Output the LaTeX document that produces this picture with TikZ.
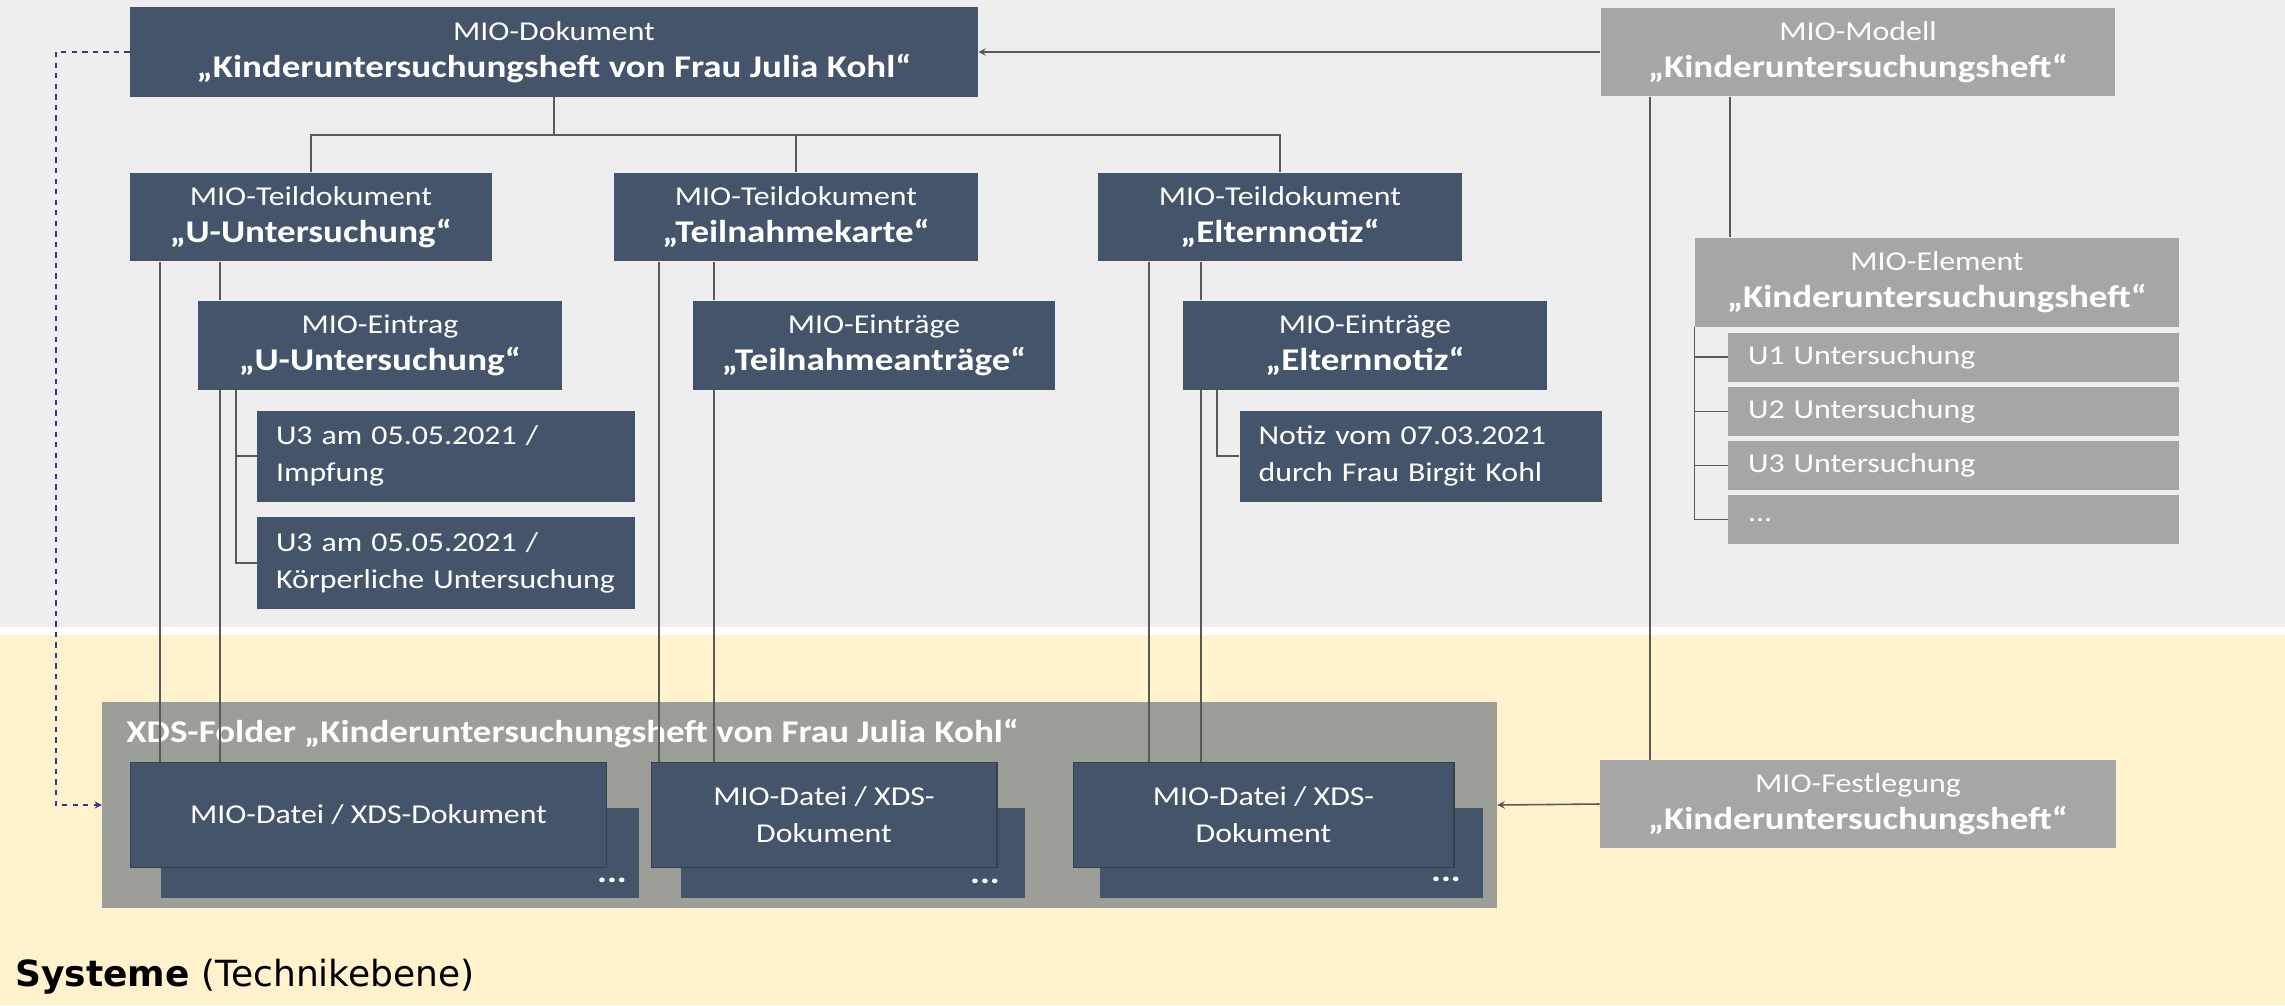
\documentclass[tikz,border=0pt]{standalone}
\usepackage{fontspec}
\setmainfont{Carlito}[FakeStretch=1.17]
\newfontfamily\sysfont{DejaVu Sans}
\usetikzlibrary{positioning}

\definecolor{miodark}{HTML}{44546A}
\definecolor{miogray}{HTML}{A6A6A6}
\definecolor{topbg}{HTML}{EEEEEE}
\definecolor{sysbg}{HTML}{FFF2CC}
\definecolor{foldergray}{HTML}{9C9F98}
\definecolor{docline}{HTML}{363F4D}
\definecolor{linegray}{HTML}{595959}
\definecolor{dashblue}{HTML}{2F3A8C}

\newcommand{\mioreg}{\fontsize{15.5}{21}\selectfont}
\newcommand{\miobold}{\fontsize{18}{22}\selectfont\bfseries}

\tikzstyle{darkbox} = [rectangle, fill=miodark, text=white, align=center, inner sep=0pt, font=\mioreg]
\tikzstyle{graybox} = [rectangle, fill=miogray, text=white, align=center, inner sep=0pt, font=\mioreg]
\tikzstyle{entrybox} = [rectangle, fill=miodark, text=white, align=left, inner xsep=0.38cm, inner ysep=0pt, font=\mioreg]
\tikzstyle{itembox} = [rectangle, fill=miogray, text=white, align=left, inner xsep=0.4cm, inner ysep=0pt, text width=8.22cm, minimum height=0.98cm, font=\mioreg]
\tikzstyle{folderbox} = [rectangle, fill=foldergray, inner sep=0pt]
\tikzstyle{docbox} = [rectangle, fill=miodark, draw=docline, line width=0.6pt, text=white, align=center, inner sep=0pt, minimum height=2.1cm, font=\mioreg]
\tikzstyle{backbox} = [rectangle, fill=miodark, inner sep=0pt, minimum height=1.8cm]
\tikzstyle{dotsstyle} = [text=white, inner sep=0pt, font=\miobold]
\tikzstyle{conn} = [draw=linegray, line width=0.7pt]
\tikzstyle{arrow} = [linegray, line width=0.9pt, ->, >=stealth]
\tikzstyle{dashlink} = [dashblue, line width=0.8pt, dashed, ->, >=stealth]

\begin{document}
\begin{tikzpicture}[x=0.02cm, y=-0.02cm, node distance=1.086cm]
	\useasboundingbox (0,0) rectangle (2285,1005);
	\fill [topbg] (0,0) rectangle (2285,627);
	\fill [white] (0,627) rectangle (2285,635);
	\fill [sysbg] (0,635) rectangle (2285,1005);

	% Fachebene
	\node (mdok) [darkbox, minimum width=16.96cm, minimum height=1.8cm] at (554,52) {MIO-Dokument\\\miobold „Kinderuntersuchungsheft von Frau Julia Kohl“};
	\node (teil1) [darkbox, minimum width=7.24cm, minimum height=1.78cm] at (311,217) {MIO-Teildokument\\\miobold „U-Untersuchung“};
	\node (teil2) [darkbox, minimum width=7.28cm, minimum height=1.78cm] at (796,217) {MIO-Teildokument\\\miobold „Teilnahmekarte“};
	\node (teil3) [darkbox, minimum width=7.3cm, minimum height=1.78cm] at (1280,217) {MIO-Teildokument\\\miobold „Elternnotiz“};
	\node (eintrag1) [darkbox, minimum width=7.28cm, minimum height=1.78cm] at (380,345) {MIO-Eintrag\\\miobold „U-Untersuchung“};
	\node (eintrag2) [darkbox, minimum width=7.26cm, minimum height=1.78cm] at (874,345) {MIO-Einträge\\\miobold „Teilnahmeanträge“};
	\node (eintrag3) [darkbox, minimum width=7.3cm, minimum height=1.78cm] at (1365,345) {MIO-Einträge\\\miobold „Elternnotiz“};
	\node (entry1) [entrybox, text width=6.8cm, minimum height=1.82cm] at (446,456) {U3 am 05.05.2021 /\\Impfung};
	\node (entry2) [entrybox, text width=6.8cm, minimum height=1.84cm] at (446,563) {U3 am 05.05.2021 /\\Körperliche Untersuchung};
	\node (notiz) [entrybox, text width=6.5cm, minimum height=1.82cm] at (1421,456) {Notiz vom 07.03.2021\\durch Frau Birgit Kohl};

	\node (modell) [graybox, minimum width=10.3cm, minimum height=1.78cm] at (1858,52) {MIO-Modell\\\miobold „Kinderuntersuchungsheft“};
	\node (elem) [graybox, minimum width=9.68cm, minimum height=1.78cm] at (1937,282) {MIO-Element\\\miobold „Kinderuntersuchungsheft“};
	\node (u1) [itembox] at (1953.5,357) {U1 Untersuchung};
	\node (u2) [itembox, below of=u1] {U2 Untersuchung};
	\node (u3) [itembox, below of=u2] {U3 Untersuchung};
	\node (umore) [itembox, below of=u3] {...};
	\node (festl) [graybox, minimum width=10.32cm, minimum height=1.76cm] at (1858,804) {MIO-Festlegung\\\miobold „Kinderuntersuchungsheft“};

	% Systemebene
	\node (folder) [folderbox, minimum width=27.9cm, minimum height=4.14cm] at (799.5,805) {};
	\node (foldertitle) [anchor=west, text=white, inner sep=0pt, font=\miobold] at (126,733) {XDS-Folder „Kinderuntersuchungsheft von Frau Julia Kohl“};
	\node (doc1b) [backbox, minimum width=9.56cm] at (400,853) {};
	\node (doc1a) [docbox, minimum width=9.54cm] at (368.5,815) {MIO-Datei / XDS-Dokument};
	\node (dots1) [dotsstyle] at (612,880) {...};
	\node (doc2b) [backbox, minimum width=6.9cm] at (853,853) {};
	\node (doc2a) [docbox, minimum width=6.92cm] at (824,815) {MIO-Datei / XDS-\\Dokument};
	\node (dots2) [dotsstyle] at (985,881) {...};
	\node (doc3b) [backbox, minimum width=7.66cm] at (1291.5,853) {};
	\node (doc3a) [docbox, minimum width=7.62cm] at (1263.5,815) {MIO-Datei / XDS-\\Dokument};
	\node (dots3) [dotsstyle] at (1446,879) {...};
	\node (systeme) [anchor=west, inner sep=0pt, font=\sysfont\fontsize{20.5}{25}\selectfont] at (15,977) {\textbf{Systeme} (Technikebene)};

	% Verbindungen
	\coordinate (bar) at (554,135);
	\coordinate (col1) at (160,0);
	\coordinate (col2) at (220,0);
	\coordinate (col3) at (236,0);
	\coordinate (col4) at (659,0);
	\coordinate (col5) at (714,0);
	\coordinate (col6) at (1149,0);
	\coordinate (col7) at (1201,0);
	\coordinate (col8) at (1217,0);
	\coordinate (col9) at (1650,0);
	\coordinate (col10) at (1730,0);
	\coordinate (dashcorner) at (56,400);

	\draw [conn] (mdok.south) -- (bar) -| (teil1.north);
	\draw [conn] (bar) -| (teil2.north);
	\draw [conn] (bar) -| (teil3.north);

	\draw [conn] (teil1.south -| col1) -- (doc1a.north -| col1);
	\draw [conn] (teil1.south -| col2) -- (eintrag1.north -| col2);
	\draw [conn] (eintrag1.south -| col2) -- (doc1a.north -| col2);
	\draw [conn] (eintrag1.south -| col3) |- (entry1.west);
	\draw [conn] (eintrag1.south -| col3) |- (entry2.west);

	\draw [conn] (teil2.south -| col4) -- (doc2a.north -| col4);
	\draw [conn] (teil2.south -| col5) -- (eintrag2.north -| col5);
	\draw [conn] (eintrag2.south -| col5) -- (doc2a.north -| col5);

	\draw [conn] (teil3.south -| col6) -- (doc3a.north -| col6);
	\draw [conn] (teil3.south -| col7) -- (eintrag3.north -| col7);
	\draw [conn] (eintrag3.south -| col7) -- (doc3a.north -| col7);
	\draw [conn] (eintrag3.south -| col8) |- (notiz.west);

	\draw [conn] (modell.south -| col9) -- (festl.north -| col9);
	\draw [conn] (modell.south -| col10) -- (elem.north -| col10);
	\draw [conn] (elem.south west) |- (u1.west);
	\draw [conn] (elem.south west) |- (u2.west);
	\draw [conn] (elem.south west) |- (u3.west);
	\draw [conn] (elem.south west) |- (umore.west);

	\draw [arrow] (modell.west) -- (mdok.east);
	\draw [arrow] (festl.west) -- (folder.east);
	\draw [dashlink] (mdok.west) -| (dashcorner) |- (folder.west);
\end{tikzpicture}
\end{document}
